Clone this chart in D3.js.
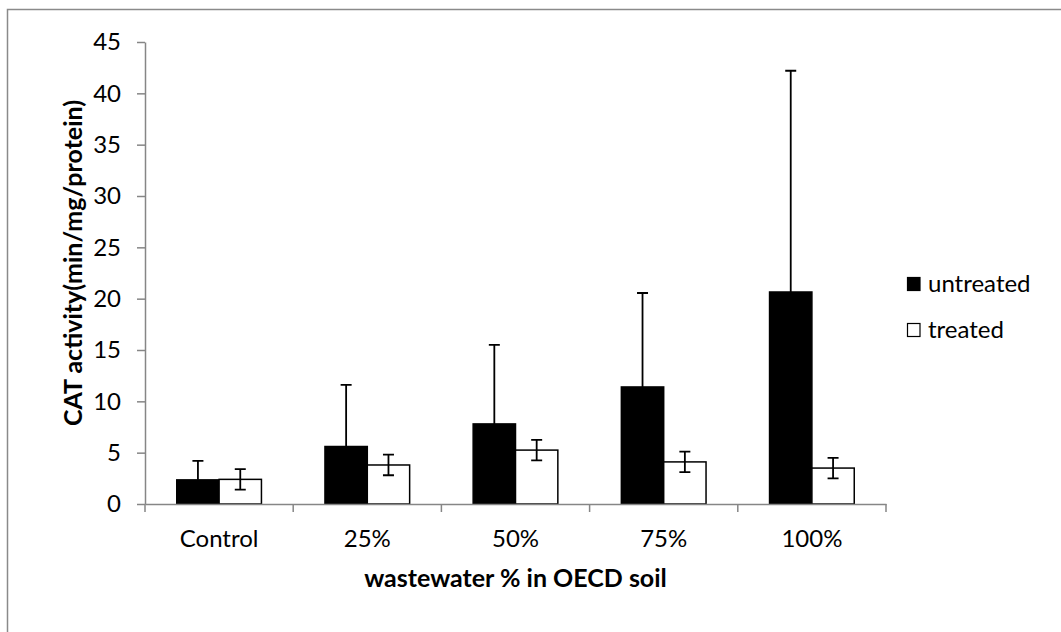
<!DOCTYPE html>
<html>
<head>
<meta charset="utf-8">
<title>CAT activity</title>
<style>
body { margin: 0; background: #fff; }
text { font-family: Lato, "Open Sans", sans-serif; fill: #000; }
.title { font-size: 25px; font-weight: bold; }
.legend text { font-size: 24px; }
</style>
</head>
<body>
<script src="https://cdn.jsdelivr.net/npm/d3@7"></script>
<script>
var categories = ["Control", "25%", "50%", "75%", "100%"];
var series = ["untreated", "treated"];
var untreated = [2.35, 5.6, 7.8, 11.4, 20.65];
var untreatedErr = [1.85, 6.0, 7.7, 9.15, 21.55];
var treated = [2.4, 3.8, 5.25, 4.1, 3.5];
var treatedErr = [1.0, 1.0, 1.0, 1.0, 1.0];
var yTicks = [0, 5, 10, 15, 20, 25, 30, 35, 40, 45];

var width = 1061, height = 632;
var plotLeft = 145, plotRight = 886, plotTop = 42, plotBottom = 504;

var rows = categories.map(function(c, i) {
  return {
    cat: c,
    vals: [
      {s: "untreated", v: untreated[i], e: untreatedErr[i], fill: "#000", plusOnly: true},
      {s: "treated", v: treated[i], e: treatedErr[i], fill: "#fff", plusOnly: false}
    ]
  };
});

var svg = d3.select("body").append("svg")
  .attr("width", width)
  .attr("height", height);

// outer chart border (only left and top visible in the picture)
svg.append("rect")
  .attr("x", 7.5).attr("y", 9.5)
  .attr("width", width + 20).attr("height", height + 20)
  .attr("fill", "none")
  .attr("stroke", "#8a8a8a")
  .attr("stroke-width", 1.5);

var x = d3.scaleBand().domain(categories).range([plotLeft, plotRight]);
var xIn = d3.scaleBand().domain(series).range([0, x.bandwidth()])
  .paddingInner(0).paddingOuter(0.75);
var y = d3.scaleLinear().domain([0, 45]).range([plotBottom, plotTop]);

var groups = svg.append("g").selectAll("g")
  .data(rows)
  .enter().append("g")
  .attr("transform", function(d) { return "translate(" + x(d.cat) + ",0)"; });

groups.selectAll("rect")
  .data(function(d) { return d.vals; })
  .enter().append("rect")
  .attr("x", function(d) { return xIn(d.s); })
  .attr("y", function(d) { return y(d.v); })
  .attr("width", xIn.bandwidth())
  .attr("height", function(d) { return y(0) - y(d.v); })
  .attr("fill", function(d) { return d.fill; })
  .attr("stroke", "#000")
  .attr("stroke-width", 1.5);

// error bars
var capW = 5.5;
groups.selectAll("path.err")
  .data(function(d) { return d.vals; })
  .enter().append("path")
  .attr("class", "err")
  .attr("fill", "none")
  .attr("stroke", "#000")
  .attr("stroke-width", 1.8)
  .attr("d", function(d) {
    var cx = xIn(d.s) + xIn.bandwidth() / 2;
    var hi = y(d.v + d.e);
    var lo = d.plusOnly ? y(d.v) : y(Math.max(0, d.v - d.e));
    var p = "M" + cx + "," + lo + "V" + hi +
      "M" + (cx - capW) + "," + hi + "H" + (cx + capW);
    if (!d.plusOnly) p += "M" + (cx - capW) + "," + lo + "H" + (cx + capW);
    return p;
  });

// y axis
var yAxis = svg.append("g")
  .attr("transform", "translate(" + plotLeft + ",0)")
  .call(d3.axisLeft(y).tickValues(yTicks).tickSize(8).tickPadding(16).tickSizeOuter(0));
yAxis.select(".domain").attr("stroke", "#868686").attr("stroke-width", 1.5);
yAxis.selectAll(".tick line").attr("stroke", "#868686").attr("stroke-width", 1.5);

// x axis, ticks at the category boundaries
var xAxis = svg.append("g")
  .attr("transform", "translate(0," + plotBottom + ")")
  .call(d3.axisBottom(x).tickSize(0).tickPadding(26));
xAxis.select(".domain").attr("stroke", "#868686").attr("stroke-width", 1.5);
xAxis.selectAll(".tick line").remove();
xAxis.selectAll(".bound")
  .data(categories.concat([null]))
  .enter().append("line")
  .attr("class", "bound")
  .attr("x1", function(d) { return d ? x(d) : plotRight; })
  .attr("x2", function(d) { return d ? x(d) : plotRight; })
  .attr("y1", 0).attr("y2", 8)
  .attr("stroke", "#868686")
  .attr("stroke-width", 1.5);

svg.selectAll(".tick text")
  .attr("fill", "#000")
  .style("font-family", "Lato, 'Open Sans', sans-serif")
  .style("font-size", "24px");

// axis titles
svg.append("text")
  .attr("class", "title")
  .attr("transform", "translate(82,263) rotate(-90)")
  .attr("text-anchor", "middle")
  .text("CAT activity(min/mg/protein)");

svg.append("text")
  .attr("class", "title")
  .attr("x", (plotLeft + plotRight) / 2)
  .attr("y", 587)
  .attr("text-anchor", "middle")
  .text("wastewater % in OECD soil");

// legend
var legend = svg.append("g").attr("class", "legend");
var legendRows = [{s: "untreated", fill: "#000", y: 291.5}, {s: "treated", fill: "#fff", y: 337.5}];
legend.selectAll("rect")
  .data(legendRows)
  .enter().append("rect")
  .attr("x", 907.5)
  .attr("y", function(d) { return d.y - 14; })
  .attr("width", 12.5).attr("height", 13)
  .attr("fill", function(d) { return d.fill; })
  .attr("stroke", "#000")
  .attr("stroke-width", 1.2);
legend.selectAll("text")
  .data(legendRows)
  .enter().append("text")
  .attr("x", 928)
  .attr("y", function(d) { return d.y; })
  .text(function(d) { return d.s; });
</script>
</body>
</html>
